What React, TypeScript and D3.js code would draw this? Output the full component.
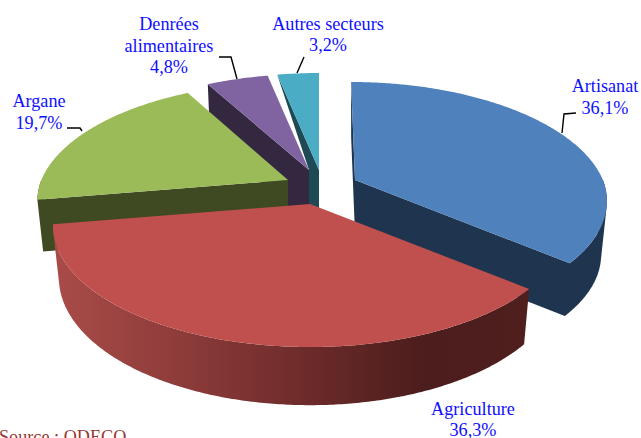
import React from "react";
import * as d3 from "d3";

const categories = ["Artisanat", "Agriculture", "Argane", "Denrées alimentaires", "Autres secteurs"];
const shares = [36.1, 36.3, 19.7, 4.8, 3.2];
const shareLabels = ["36,1%", "36,3%", "19,7%", "4,8%", "3,2%"];

// Layout of the exploded 3D pie, one entry per category
const apexX = [355, 310, 288, 309, 319];
const apexY = [180, 204, 180, 170, 170];
const sliceScale = [0.98, 1, 0.975, 0.96, 0.97];
const sliceLean = [0.04, 0, -0.03, 0, 0];
const sliceDepth = [54, 51, 52, 54, 54];
const lowerShrinkY = [0.985, 1.05, 0.985, 0.985, 0.985];
const topColors = ["#4F81BD", "#C0504D", "#9BBB59", "#8064A2", "#4BACC6"];
const sideColors = ["#1F344E", "url(#redWall)", "#3F4A22", "#33283F", "#1E4A56"];
const drawOrder = [4, 3, 2, 0, 1];

const RX = 253;
const RY = 117.7;
const PERSPECTIVE = 0.177;
const BOTTOM_SHRINK_X = 0.977;

const textLines = [
  { lines: ["Artisanat", "36,1%"], x: 605, y: 92, step: 22 },
  { lines: ["Agriculture", "36,3%"], x: 473, y: 415, step: 21 },
  { lines: ["Argane", "19,7%"], x: 39, y: 107, step: 22 },
  { lines: ["Denrées", "alimentaires", "4,8%"], x: 169, y: 30, step: 21.5 },
  { lines: ["Autres secteurs", "3,2%"], x: 328, y: 30, step: 21 },
];

const leaders: [number, number][][] = [
  [[562, 133], [564, 114], [576, 113]],
  [],
  [[82, 131], [80, 128], [67, 128]],
  [[237, 79], [231, 57], [219, 57]],
  [[297, 73], [304, 57]],
];

type P = [number, number];

function rimPoint(i: number, theta: number): P {
  const u = Math.sin(theta);
  const v = -Math.cos(theta);
  const s = sliceScale[i] / (1 - PERSPECTIVE * v);
  const y = RY * v * s;
  const x = RX * u * s + sliceLean[i] * Math.min(y, 0);
  return [apexX[i] + x, apexY[i] + y];
}

function lower(i: number, p: P): P {
  return [
    apexX[i] + (p[0] - apexX[i]) * BOTTOM_SHRINK_X,
    apexY[i] + (p[1] - apexY[i]) * lowerShrinkY[i] + sliceDepth[i],
  ];
}

function arcPoints(i: number, a: number, b: number): P[] {
  const n = Math.max(2, Math.ceil(Math.abs(b - a) / 0.01));
  return d3.range(n + 1).map((k) => rimPoint(i, a + ((b - a) * k) / n));
}

const line = d3.line<P>().curve(d3.curveLinear);
const closed = (pts: P[]) => (line(pts) as string) + "Z";
// All pieces of one side share a winding, so a single nonzero path is their seamless union
const wound = (pts: P[]) => (d3.polygonArea(pts) < 0 ? pts.slice().reverse() : pts);

export default function App() {
  const arcs = d3
    .pie<number>()
    .sort(null)
    .value((d) => d)(shares);

  const apex = (i: number): P => [apexX[i], apexY[i]];

  const radial = (i: number, theta: number): P[] => {
    const r = rimPoint(i, theta);
    return [r, apex(i), lower(i, apex(i)), lower(i, r)];
  };

  const wallQuads = (i: number): P[][] => {
    const a = Math.max(arcs[i].startAngle, Math.PI / 2);
    const b = Math.min(arcs[i].endAngle, (3 * Math.PI) / 2);
    if (b <= a) return [];
    const pts = arcPoints(i, a, b);
    return pts.slice(1).map((p, k) => [pts[k], p, lower(i, p), lower(i, pts[k])]);
  };

  const sideFaces = (i: number): P[][] => {
    const out: P[][] = wallQuads(i);
    if (i === 0) {
      out.push(radial(0, arcs[0].startAngle));
      out.push(radial(0, arcs[0].endAngle));
    }
    if (i === 2 || i === 3) out.push(radial(i, arcs[i].startAngle));
    if (i === 4) {
      const r = rimPoint(4, arcs[4].startAngle);
      out.push([r, apex(4), lower(4, apex(4)), lower(3, apex(3)), apex(3)]);
    }
    return out;
  };

  const topFace = (i: number): P[] => [apex(i), ...arcPoints(i, arcs[i].startAngle, arcs[i].endAngle)];

  return (
    <svg
      width={641}
      height={438}
      viewBox="0 0 641 438"
      style={{ position: "absolute", left: 0, top: 0, display: "block", background: "#fff" }}
    >
      <defs>
        <linearGradient id="redWall" gradientUnits="userSpaceOnUse" x1={60} x2={527} y1={0} y2={0}>
          <stop offset="0" stopColor="#A84B48" />
          <stop offset="0.25" stopColor="#8E3C3A" />
          <stop offset="0.5" stopColor="#702D2C" />
          <stop offset="0.78" stopColor="#4B1D1C" />
          <stop offset="1" stopColor="#4F1F1E" />
        </linearGradient>
      </defs>
      {drawOrder.map((i) => (
        <g key={categories[i]}>
          <path d={sideFaces(i).map((pts) => closed(wound(pts))).join("")} fill={sideColors[i]} fillRule="nonzero" />
          <path d={closed(topFace(i))} fill={topColors[i]} />
        </g>
      ))}
      {leaders.map((pts, i) =>
        pts.length ? (
          <path key={i} d={line(pts as P[]) as string} fill="none" stroke="#000" strokeWidth={1.4} />
        ) : null
      )}
      {textLines.map((t, i) => (
        <text
          key={i}
          aria-label={`${categories[i]} ${shareLabels[i]}`}
          fontFamily="'Liberation Serif', serif"
          fontSize={18.2}
          fill="#0F0FFF"
          textAnchor="middle"
        >
          {t.lines.map((l, k) => (
            <tspan key={k} x={t.x} y={t.y + k * t.step}>
              {l}
            </tspan>
          ))}
        </text>
      ))}
      <text x={-1} y={443} fontFamily="'Liberation Serif', serif" fontSize={18.2} fill="#953735">
        Source : ODECO
      </text>
    </svg>
  );
}
